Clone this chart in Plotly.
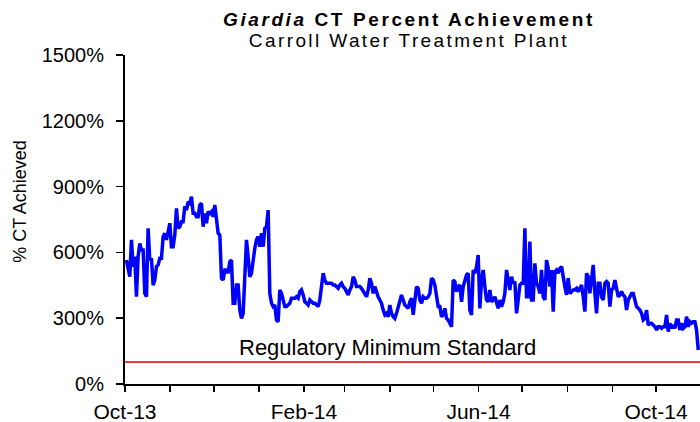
import pandas as pd
import plotly.graph_objects as go

# Daily-ish readings of Giardia CT % achievement, Oct-2013 .. Oct-2014
ct_part1 = [565, 535, 489, 657, 535, 581, 398, 581, 641, 611, 611, 413, 398, 710, 565, 573,
            451, 474, 535, 543, 573, 573, 672, 687, 657, 694, 733, 626, 626, 679, 801, 710,
            717, 740, 740, 809, 793, 831, 824, 854, 778, 778, 763, 763, 816, 824, 717, 778,
            733, 786, 778, 786, 763, 816, 763, 687, 679, 482, 474, 520, 520, 505, 558, 565,
            368, 368, 451, 451, 337, 299, 322, 535, 657, 581, 489, 505, 581, 619, 657, 672,
            626, 687, 626, 710, 717, 793, 413]
ct_part2 = [368, 353, 360, 292, 284, 429, 413, 383, 353, 353, 360, 368, 391, 391, 391, 398,
            391, 421, 429, 406, 375, 368, 360, 383, 375, 368, 368, 360, 353, 383, 459, 505,
            474, 459, 459, 459, 459, 451, 451, 444, 436, 451, 459, 444, 436, 421, 406, 429,
            444, 489, 474, 444, 444, 444, 436, 421, 413, 398, 429, 482, 459, 413, 444, 413,
            398, 383, 368, 337, 315, 322, 307, 360, 322, 307, 299, 322, 353, 383, 406, 383,
            360, 353, 345, 375, 391, 315, 398, 444, 436, 383]
ct_part3 = [368, 398, 391, 391, 398, 413, 482, 474, 451, 398, 353, 353, 307, 315, 345, 299,
            292, 277, 261, 474, 467, 421, 444, 451, 375, 444, 474, 497, 505, 337, 315, 520,
            505, 535, 588, 345, 474, 520, 444, 383, 375, 429, 375, 383, 398, 368, 345, 383,
            353, 375, 413, 520, 459, 429, 489, 459, 467, 322, 383, 451, 459, 459, 710, 398,
            398, 649, 383, 383, 550, 459, 444, 413, 520, 398, 383, 565, 527, 444, 520, 330,
            512, 520, 505, 527, 535, 474, 444, 406, 482, 413, 421, 429, 429, 436, 421, 436]
ct_part4 = [451, 398, 330, 505, 489, 413, 489, 543, 413, 322, 459, 459, 398, 383, 459, 467,
            459, 353, 429, 436, 474, 429, 398, 406, 421, 406, 398, 337, 383, 398, 413, 413,
            375, 353, 345, 337, 322, 292, 299, 337, 269, 277, 277, 269, 261, 246, 261, 261,
            254, 261, 261, 315, 239, 277, 254, 269, 254, 292, 292, 246, 277, 254, 261, 307,
            261, 284, 277, 284, 284, 246, 155]

ct_values = ct_part1 + ct_part2 + ct_part3 + ct_part4
first_date = "2013-10-02"
last_date = "2014-10-30"
dates = pd.date_range(first_date, last_date, periods=len(ct_values))

regulatory_minimum = 100
y_ticks = [0, 300, 600, 900, 1200, 1500]
y_tick_labels = ["0%", "300%", "600%", "900%", "1200%", "1500%"]
x_range = ["2013-10-01", "2014-10-31 05:00"]

title_line1 = "<i>Giardia</i> CT Percent Achievement"
title_line2 = "Carroll Water Treatment Plant"

FONT = "Liberation Sans, Arial, Helvetica, sans-serif"

fig = go.Figure()
fig.add_trace(go.Scatter(x=dates, y=ct_values, mode="lines",
                         line=dict(color="#0000ff", width=3.5), hoverinfo="skip"))

fig.add_hline(y=regulatory_minimum, line=dict(color="#d40000", width=1.5))

title_text = (
    "<span style='font-size:19px;letter-spacing:2.6px'><b>" + title_line1 + "</b></span><br>"
    "<span style='font-size:19px;letter-spacing:2.4px'>" + title_line2 + "</span>"
)

fig.update_layout(
    width=700, height=422,
    margin=dict(l=125, r=0, t=55, b=38, autoexpand=False),
    paper_bgcolor="white", plot_bgcolor="white",
    showlegend=False,
    hovermode=False,
    font=dict(family=FONT, color="black"),
    xaxis=dict(
        type="date", range=x_range, automargin=False,
        tickformat="%b-%y", dtick="M4", tick0="2013-10-01",
        ticks="outside", ticklen=6, tickwidth=1.5, tickcolor="black",
        showline=True, linecolor="black", linewidth=2,
        showgrid=False, zeroline=False,
        tickfont=dict(size=21, family=FONT),
        ticklabelstandoff=2,
        minor=dict(dtick="M1", tick0="2013-10-01", ticks="outside", ticklen=6,
                   tickwidth=1.5, tickcolor="black", showgrid=False),
    ),
    yaxis=dict(
        range=[0, 1500], tickvals=y_ticks, ticktext=y_tick_labels, automargin=False,
        ticks="outside", ticklen=7, tickwidth=1.5, tickcolor="black",
        showline=True, linecolor="black", linewidth=2,
        showgrid=False, zeroline=False,
        tickfont=dict(size=20, family=FONT),
        ticklabelstandoff=8,
    ),
    annotations=[
        dict(text=title_text, xref="paper", yref="paper",
             x=0.494, y=1.076, xanchor="center", yanchor="middle", showarrow=False,
             align="center", font=dict(size=16, family=FONT)),
        dict(text="% CT Achieved", xref="paper", yref="paper",
             x=-0.183, y=0.556, xanchor="center", yanchor="middle", textangle=-90,
             showarrow=False, font=dict(size=18, family=FONT)),
        dict(text="Regulatory Minimum Standard", xref="paper", yref="y",
             x=0.457, y=regulatory_minimum, xanchor="center", yanchor="bottom",
             showarrow=False, font=dict(size=22, family=FONT)),
    ],
)

# remove the default 8px page margin so the 700x422 figure fills the window exactly
fig.write_html("out.html",
               config={"displayModeBar": False, "staticPlot": True},
               post_script="document.body.style.margin='0';document.body.style.overflow='hidden';")
